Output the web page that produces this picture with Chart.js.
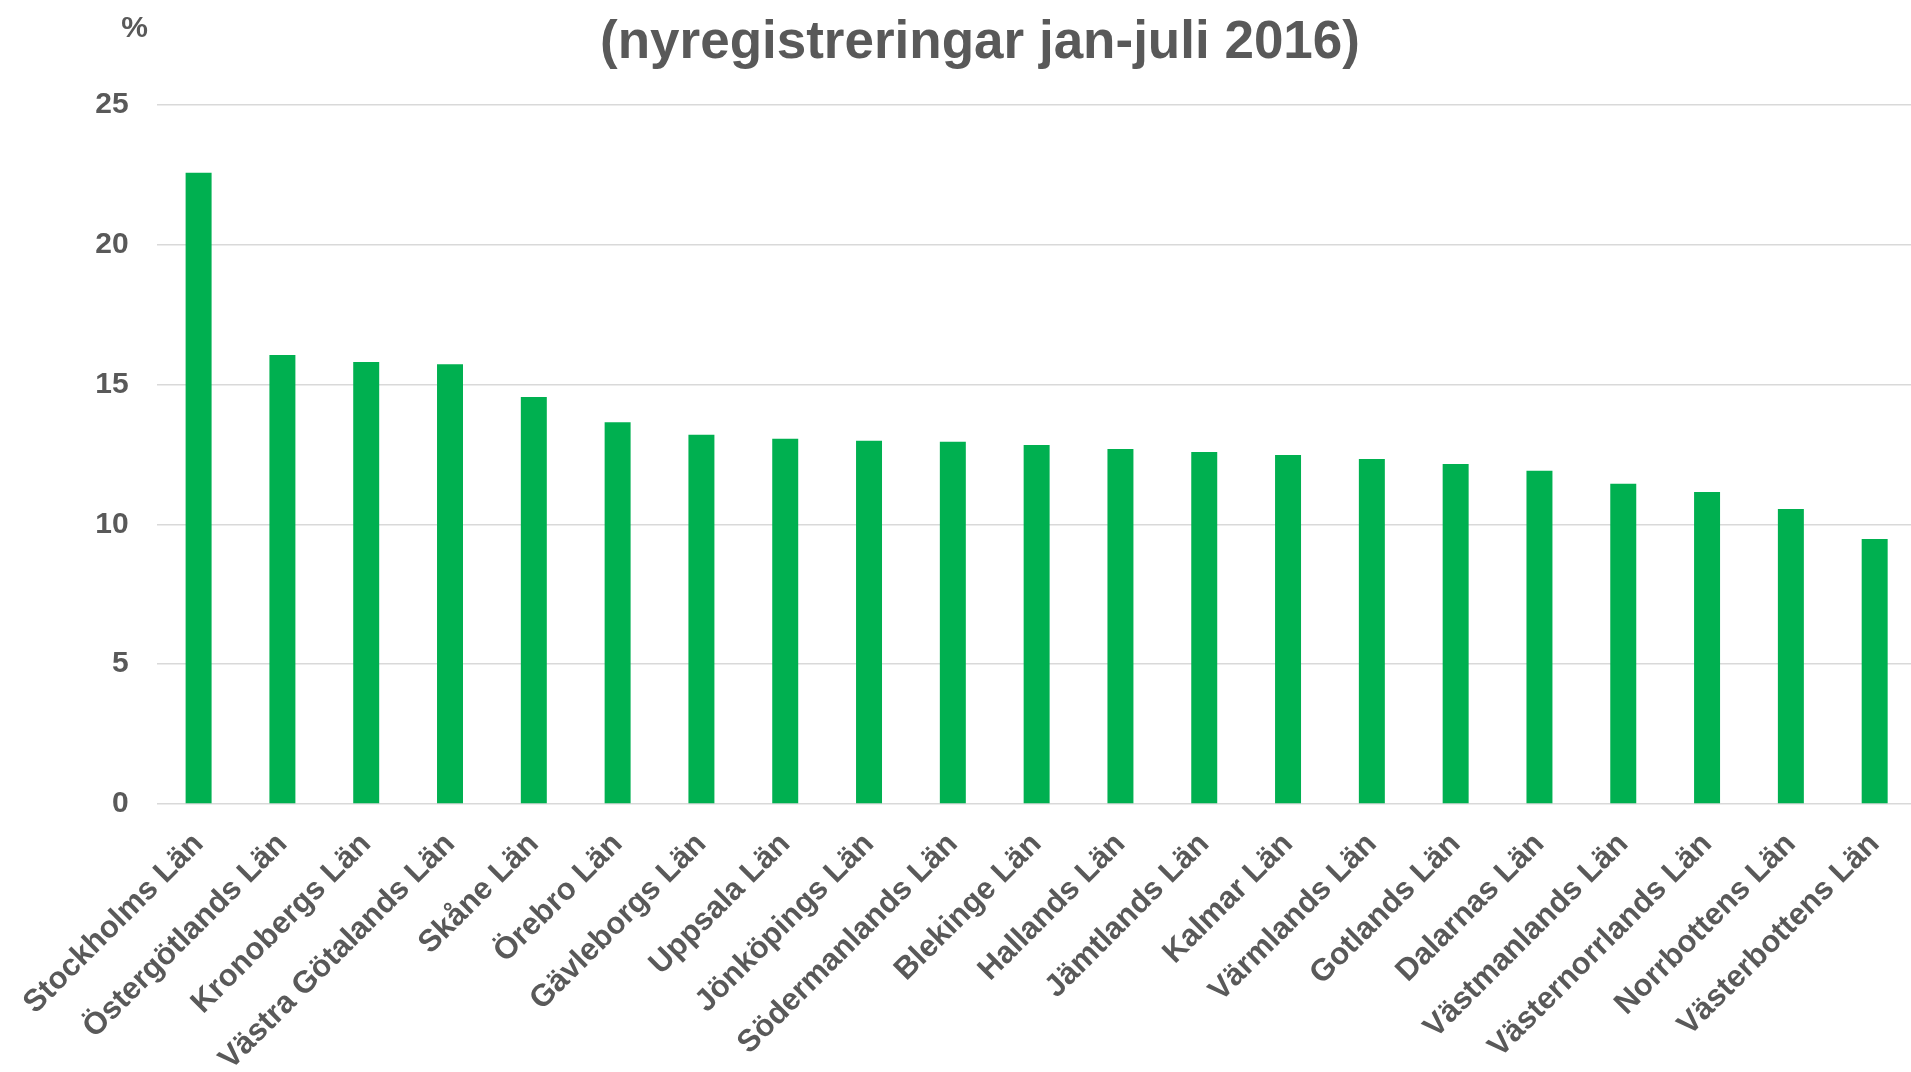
<!DOCTYPE html>
<html><head><meta charset="utf-8">
<script src="https://cdn.jsdelivr.net/npm/chart.js@4"></script>
<style>
html,body{margin:0;padding:0;overflow:hidden;background:#fff;}
#wrap{position:absolute;left:0;top:0;width:1923px;height:1072px;}
</style>
</head><body><div id="wrap"><canvas id="c" width="1923" height="1072"></canvas></div>
<script>
const categories = ['Stockholms Län','Östergötlands Län','Kronobergs Län','Västra Götalands Län','Skåne Län','Örebro Län','Gävleborgs Län','Uppsala Län','Jönköpings Län','Södermanlands Län','Blekinge Län','Hallands Län','Jämtlands Län','Kalmar Län','Värmlands Län','Gotlands Län','Dalarnas Län','Västmanlands Län','Västernorrlands Län','Norrbottens Län','Västerbottens Län'];
const values = [22.58,16.06,15.81,15.73,14.56,13.65,13.21,13.06,12.99,12.96,12.84,12.70,12.59,12.48,12.34,12.16,11.92,11.45,11.16,10.55,9.48];
const yTicks = [0,5,10,15,20,25];
const titleText = '(nyregistreringar jan-juli 2016)';
const unitText = '%';

const FONT = '"Liberation Sans", Arial, sans-serif';
const GREY = '#595959';

const textPlugin = {
  id: 'texts',
  afterDraw(chart) {
    const ctx = chart.ctx;
    ctx.save();
    ctx.fillStyle = GREY;
    ctx.textAlign = 'center';
    ctx.textBaseline = 'alphabetic';
    ctx.font = 'bold 53px ' + FONT;
    ctx.fillText(titleText, 980, 58);
    ctx.font = 'bold 30px ' + FONT;
    ctx.fillText(unitText, 134.5, 37);
    ctx.restore();
  }
};

new Chart(document.getElementById('c'), {
  type: 'bar',
  data: {
    labels: categories,
    datasets: [{
      data: values,
      backgroundColor: '#00B050',
      borderWidth: 0,
      barPercentage: 0.31,
      categoryPercentage: 1
    }]
  },
  options: {
    responsive: false,
    animation: false,
    layout: { padding: { top: 105, left: 0, right: 1, bottom: 0 } },
    plugins: { legend: { display: false }, tooltip: { enabled: false }, title: { display: false } },
    scales: {
      x: {
        grid: { display: false, drawTicks: false },
        border: { display: false },
        ticks: {
          autoSkip: false, maxRotation: 45, minRotation: 45,
          font: { family: FONT, size: 31, weight: 'bold' },
          color: GREY, padding: 22
        },
        afterFit(s) { s.height = 268; }
      },
      y: {
        min: 0, max: 25,
        afterBuildTicks(s) { s.ticks = yTicks.map(v => ({ value: v })); },
        ticks: {
          font: { family: FONT, size: 30, weight: 'bold' },
          color: GREY, padding: 28
        },
        grid: { color: '#d9d9d9', lineWidth: 1.5, drawTicks: false },
        border: { display: false },
        afterFit(s) { s.width = 156.7; }
      }
    }
  },
  plugins: [textPlugin]
});
</script>
</body></html>
